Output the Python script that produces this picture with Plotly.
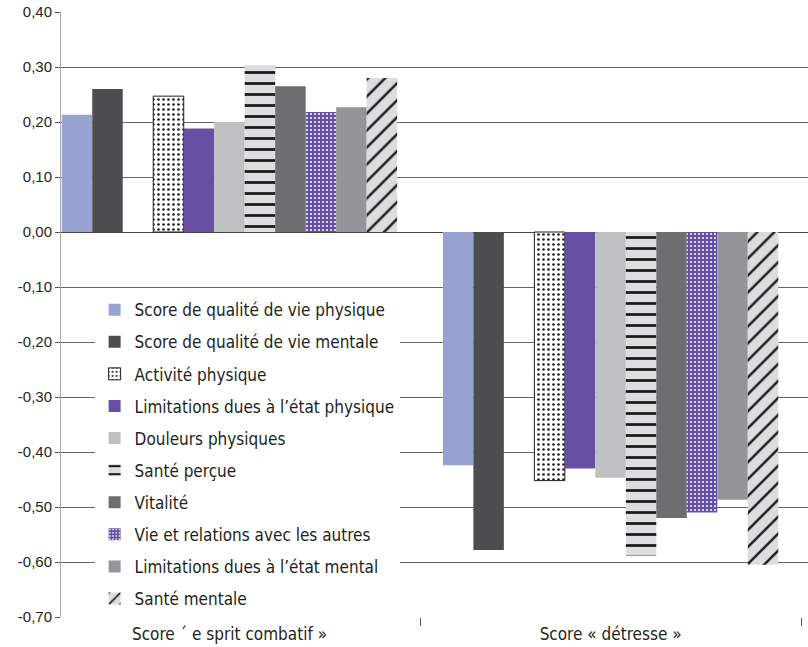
import plotly.graph_objects as go

categories = ["Score ´ e sprit combatif »", "Score « détresse »"]

series_names = [
    "Score de qualité de vie physique",
    "Score de qualité de vie mentale",
    None,  # empty slot in the original chart
    "Activité physique",
    "Limitations dues à l’état physique",
    "Douleurs physiques",
    "Santé perçue",
    "Vitalité",
    "Vie et relations avec les autres",
    "Limitations dues à l’état mental",
    "Santé mentale",
]

combatif = [0.213, 0.260, None, 0.247, 0.188, 0.200, 0.303, 0.265, 0.218, 0.227, 0.280]
detresse = [-0.424, -0.578, None, -0.452, -0.430, -0.447, -0.588, -0.520, -0.510, -0.487, -0.605]

tick_vals = [0.40, 0.30, 0.20, 0.10, 0.00, -0.10, -0.20, -0.30, -0.40, -0.50, -0.60, -0.70]
tick_text = ["0,40", "0,30", "0,20", "0,10", "0,00", "-0,10", "-0,20", "-0,30", "-0,40", "-0,50", "-0,60", "-0,70"]

styles = [
    dict(color="#99A3D1"),
    dict(color="#4D4D4F"),
    dict(color="rgba(0,0,0,0)"),
    dict(color="#FFFFFF", pattern=dict(shape=".", fgcolor="#231F20", bgcolor="#FFFFFF", size=5, solidity=0.22, fgopacity=1),
         line=dict(color="#231F20", width=1)),
    dict(color="#6750A4"),
    dict(color="#BFC0C2"),
    dict(color="#DCDDDE", pattern=dict(shape="-", fgcolor="#1A1A1A", bgcolor="#DCDDDE", size=11, solidity=0.25, fgopacity=1)),
    dict(color="#6D6E70"),
    dict(color="#6750A4", pattern=dict(shape=".", fgcolor="#FFFFFF", bgcolor="#6750A4", size=4, solidity=0.2, fgopacity=1)),
    dict(color="#939598"),
    dict(color="#DCDDDE", pattern=dict(shape="/", fgcolor="#1A1A1A", bgcolor="#DCDDDE", size=12, solidity=0.2, fgopacity=1)),
]

fig = go.Figure()
for i, name in enumerate(series_names):
    st = dict(styles[i])
    if "line" not in st:
        st["line"] = dict(width=0)
    fig.add_trace(go.Bar(
        x=categories,
        y=[combatif[i], detresse[i]],
        name=name if name else "",
        showlegend=name is not None,
        legendgroup="g%d" % i,
        marker=st,
    ))

fig.update_layout(
    width=808, height=647,
    margin=dict(l=61, r=0, t=12, b=30),
    paper_bgcolor="white", plot_bgcolor="white",
    barmode="group", bargap=0.12, bargroupgap=0,
    font=dict(family="DejaVu Sans Condensed, sans-serif", size=17, color="#231F20"),
    showlegend=True,
    legend=dict(
        x=0.045, y=0.537, xanchor="left", yanchor="top",
        bgcolor="white", borderwidth=0,
        traceorder="grouped", tracegroupgap=7,
        font=dict(size=17, color="#231F20"),
        itemwidth=30,
    ),
    xaxis=dict(
        type="category",
        range=[-0.442, 1.518],
        tickson="boundaries", ticks="outside", ticklen=8, tickcolor="#555",
        ticklabelstandoff=5,
        showgrid=False, showline=False, zeroline=False,
        tickfont=dict(size=17, color="#231F20"),
    ),
    yaxis=dict(
        range=[-0.70, 0.40],
        tickmode="array", tickvals=tick_vals, ticktext=tick_text,
        ticks="outside", ticklen=5, tickcolor="#555",
        showgrid=True, gridcolor="#666", gridwidth=1,
        zeroline=True, zerolinecolor="#444", zerolinewidth=1,
        showline=True, linecolor="#AAA", linewidth=1,
        tickfont=dict(family="Liberation Sans, Arial, sans-serif", size=15, color="#231F20"),
    ),
)

fig.write_html("out.html")
